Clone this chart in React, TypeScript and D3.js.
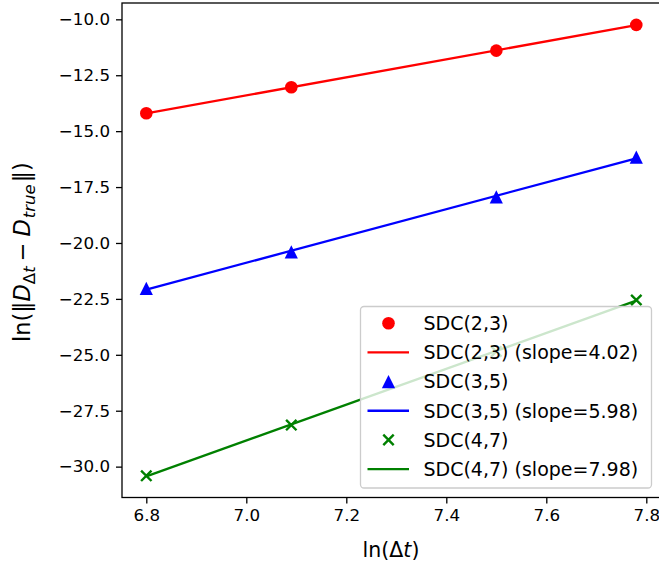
import React, { useEffect, useRef } from 'react';
import * as d3 from 'd3';

// ln(dt) values of the four runs
const logDt = [6.8, 7.09, 7.5, 7.78];

// ln of error norm, one array per scheme
const sdc23 = [-14.2, -13.04, -11.4, -10.25];
const sdc35 = [-22.03, -20.4, -17.94, -16.16];
const sdc47 = [-30.41, -28.14, -24.85, -22.55];

const seriesNames = ['SDC(2,3)', 'SDC(3,5)', 'SDC(4,7)'];
const slopeLabels = ['4.02', '5.98', '7.98'];
const xTicks = [6.8, 7.0, 7.2, 7.4, 7.6, 7.8];
const yTicks = [-30, -27.5, -25, -22.5, -20, -17.5, -15, -12.5, -10];

const colors = ['#ff0000', '#0000ff', '#008000'];
const markers = ['circle', 'triangle', 'x'];

const W = 659;
const H = 568;
const FONT = 'DejaVu Sans, sans-serif';

// least squares line through a series
const fit = (xs: number[], ys: number[]) => {
  const mx = d3.mean(xs)!;
  const my = d3.mean(ys)!;
  const num = d3.sum(xs, (x, i) => (x - mx) * (ys[i] - my));
  const den = d3.sum(xs, (x) => (x - mx) * (x - mx));
  const b = num / den;
  return (x: number) => my + b * (x - mx);
};

const App = () => {
  const ref = useRef<SVGSVGElement>(null);

  useEffect(() => {
    const svg = d3.select(ref.current);
    svg.selectAll('*').remove();

    const plot = { left: 122, top: 3, right: 662, bottom: 497.5 };

    const x = d3.scaleLinear().domain([6.7514, 7.8314]).range([plot.left, plot.right]);
    const y = d3.scaleLinear().domain([-31.38, -9.27]).range([plot.bottom, plot.top]);

    svg.append('rect').attr('width', W).attr('height', H).attr('fill', '#fff');

    const all = [sdc23, sdc35, sdc47];

    const drawMarker = (g: any, kind: string, cx: number, cy: number, color: string) => {
      if (kind === 'circle') {
        g.append('circle').attr('cx', cx).attr('cy', cy).attr('r', 6.3).attr('fill', color);
      } else if (kind === 'triangle') {
        const s = 6.6;
        g.append('path')
          .attr('d', `M${cx},${cy - s}L${cx + s},${cy + s}L${cx - s},${cy + s}Z`)
          .attr('fill', color);
      } else {
        const s = 5.2;
        g.append('path')
          .attr('d', `M${cx - s},${cy - s}L${cx + s},${cy + s}M${cx - s},${cy + s}L${cx + s},${cy - s}`)
          .attr('stroke', color)
          .attr('stroke-width', 2.4)
          .attr('fill', 'none');
      }
    };

    const data = svg.append('g');
    all.forEach((ys, i) => {
      logDt.forEach((xv, j) => drawMarker(data, markers[i], x(xv), y(ys[j]), colors[i]));
      const f = fit(logDt, ys);
      const ends = [logDt[0], logDt[logDt.length - 1]];
      data.append('path')
        .attr('d', d3.line<number>().x((d) => x(d)).y((d) => y(f(d)))(ends))
        .attr('stroke', colors[i])
        .attr('stroke-width', 2.3)
        .attr('fill', 'none');
    });

    // frame
    svg.append('rect')
      .attr('x', plot.left).attr('y', plot.top)
      .attr('width', plot.right - plot.left).attr('height', plot.bottom - plot.top)
      .attr('fill', 'none').attr('stroke', '#000').attr('stroke-width', 1.3);

    // axes
    const fmt = d3.format('.1f');
    const xAxis = svg.append('g')
      .attr('transform', `translate(0,${plot.bottom})`)
      .call(d3.axisBottom(x).tickValues(xTicks).tickFormat(fmt).tickSize(6).tickPadding(6));
    const yAxis = svg.append('g')
      .attr('transform', `translate(${plot.left},0)`)
      .call(d3.axisLeft(y).tickValues(yTicks).tickFormat(fmt).tickSize(6).tickPadding(6));
    [xAxis, yAxis].forEach((a) => {
      a.select('.domain').remove();
      a.selectAll('line').attr('stroke', '#000').attr('stroke-width', 1.3);
      a.selectAll('text').attr('font-family', FONT).attr('font-size', 16.7).attr('fill', '#000');
    });

    // axis labels
    const xl = svg.append('text')
      .attr('x', (plot.left + 662) / 2 - 1).attr('y', 557)
      .attr('text-anchor', 'middle')
      .attr('font-family', FONT).attr('font-size', 20.5);
    xl.append('tspan').text('ln(Δ');
    xl.append('tspan').attr('font-style', 'italic').text('t');
    xl.append('tspan').text(')');

    const yl = svg.append('text')
      .attr('transform', `translate(30,342) rotate(-90)`)
      .attr('text-anchor', 'start')
      .attr('font-family', FONT).attr('font-size', 22.5);
    yl.append('tspan').text('ln(‖');
    yl.append('tspan').attr('font-style', 'italic').text('D');
    yl.append('tspan').attr('font-size', 16.5).attr('dy', 4.5).text('Δ');
    yl.append('tspan').attr('font-size', 16.5).attr('font-style', 'italic').text('t');
    yl.append('tspan').attr('dy', -4.5).attr('dx', 5).text('−');
    yl.append('tspan').attr('font-style', 'italic').attr('dx', 6).text('D');
    yl.append('tspan').attr('font-size', 16.5).attr('font-style', 'italic').attr('dy', 4.5).attr('dx', 1).text('true');
    yl.append('tspan').attr('dy', -4.5).attr('dx', 2).text('‖)');

    // legend
    const lg = svg.append('g');
    lg.append('rect')
      .attr('x', 360.5).attr('y', 306.5).attr('width', 291).attr('height', 181.5)
      .attr('rx', 3.5)
      .attr('fill', '#fff').attr('fill-opacity', 0.8)
      .attr('stroke', '#cccccc').attr('stroke-width', 1.3);

    const rowY = (k: number) => 323.3 + k * 29.15;
    seriesNames.forEach((name, i) => {
      const y0 = rowY(i * 2);
      const y1 = rowY(i * 2 + 1);
      drawMarker(lg, markers[i], 388.5, y0, colors[i]);
      lg.append('line')
        .attr('x1', 367.5).attr('x2', 409).attr('y1', y1).attr('y2', y1)
        .attr('stroke', colors[i]).attr('stroke-width', 2.3);
      lg.append('text')
        .attr('x', 423.5).attr('y', y0).attr('dy', '0.36em')
        .attr('font-family', FONT).attr('font-size', 19).attr('fill', '#000')
        .text(name);
      lg.append('text')
        .attr('x', 423.5).attr('y', y1).attr('dy', '0.36em')
        .attr('font-family', FONT).attr('font-size', 19).attr('fill', '#000')
        .text(`${name} (slope=${slopeLabels[i]})`);
    });
  }, []);

  return (
    <svg
      ref={ref}
      width={W}
      height={H}
      style={{ position: 'absolute', left: 0, top: 0, display: 'block' }}
    />
  );
};

export default App;
